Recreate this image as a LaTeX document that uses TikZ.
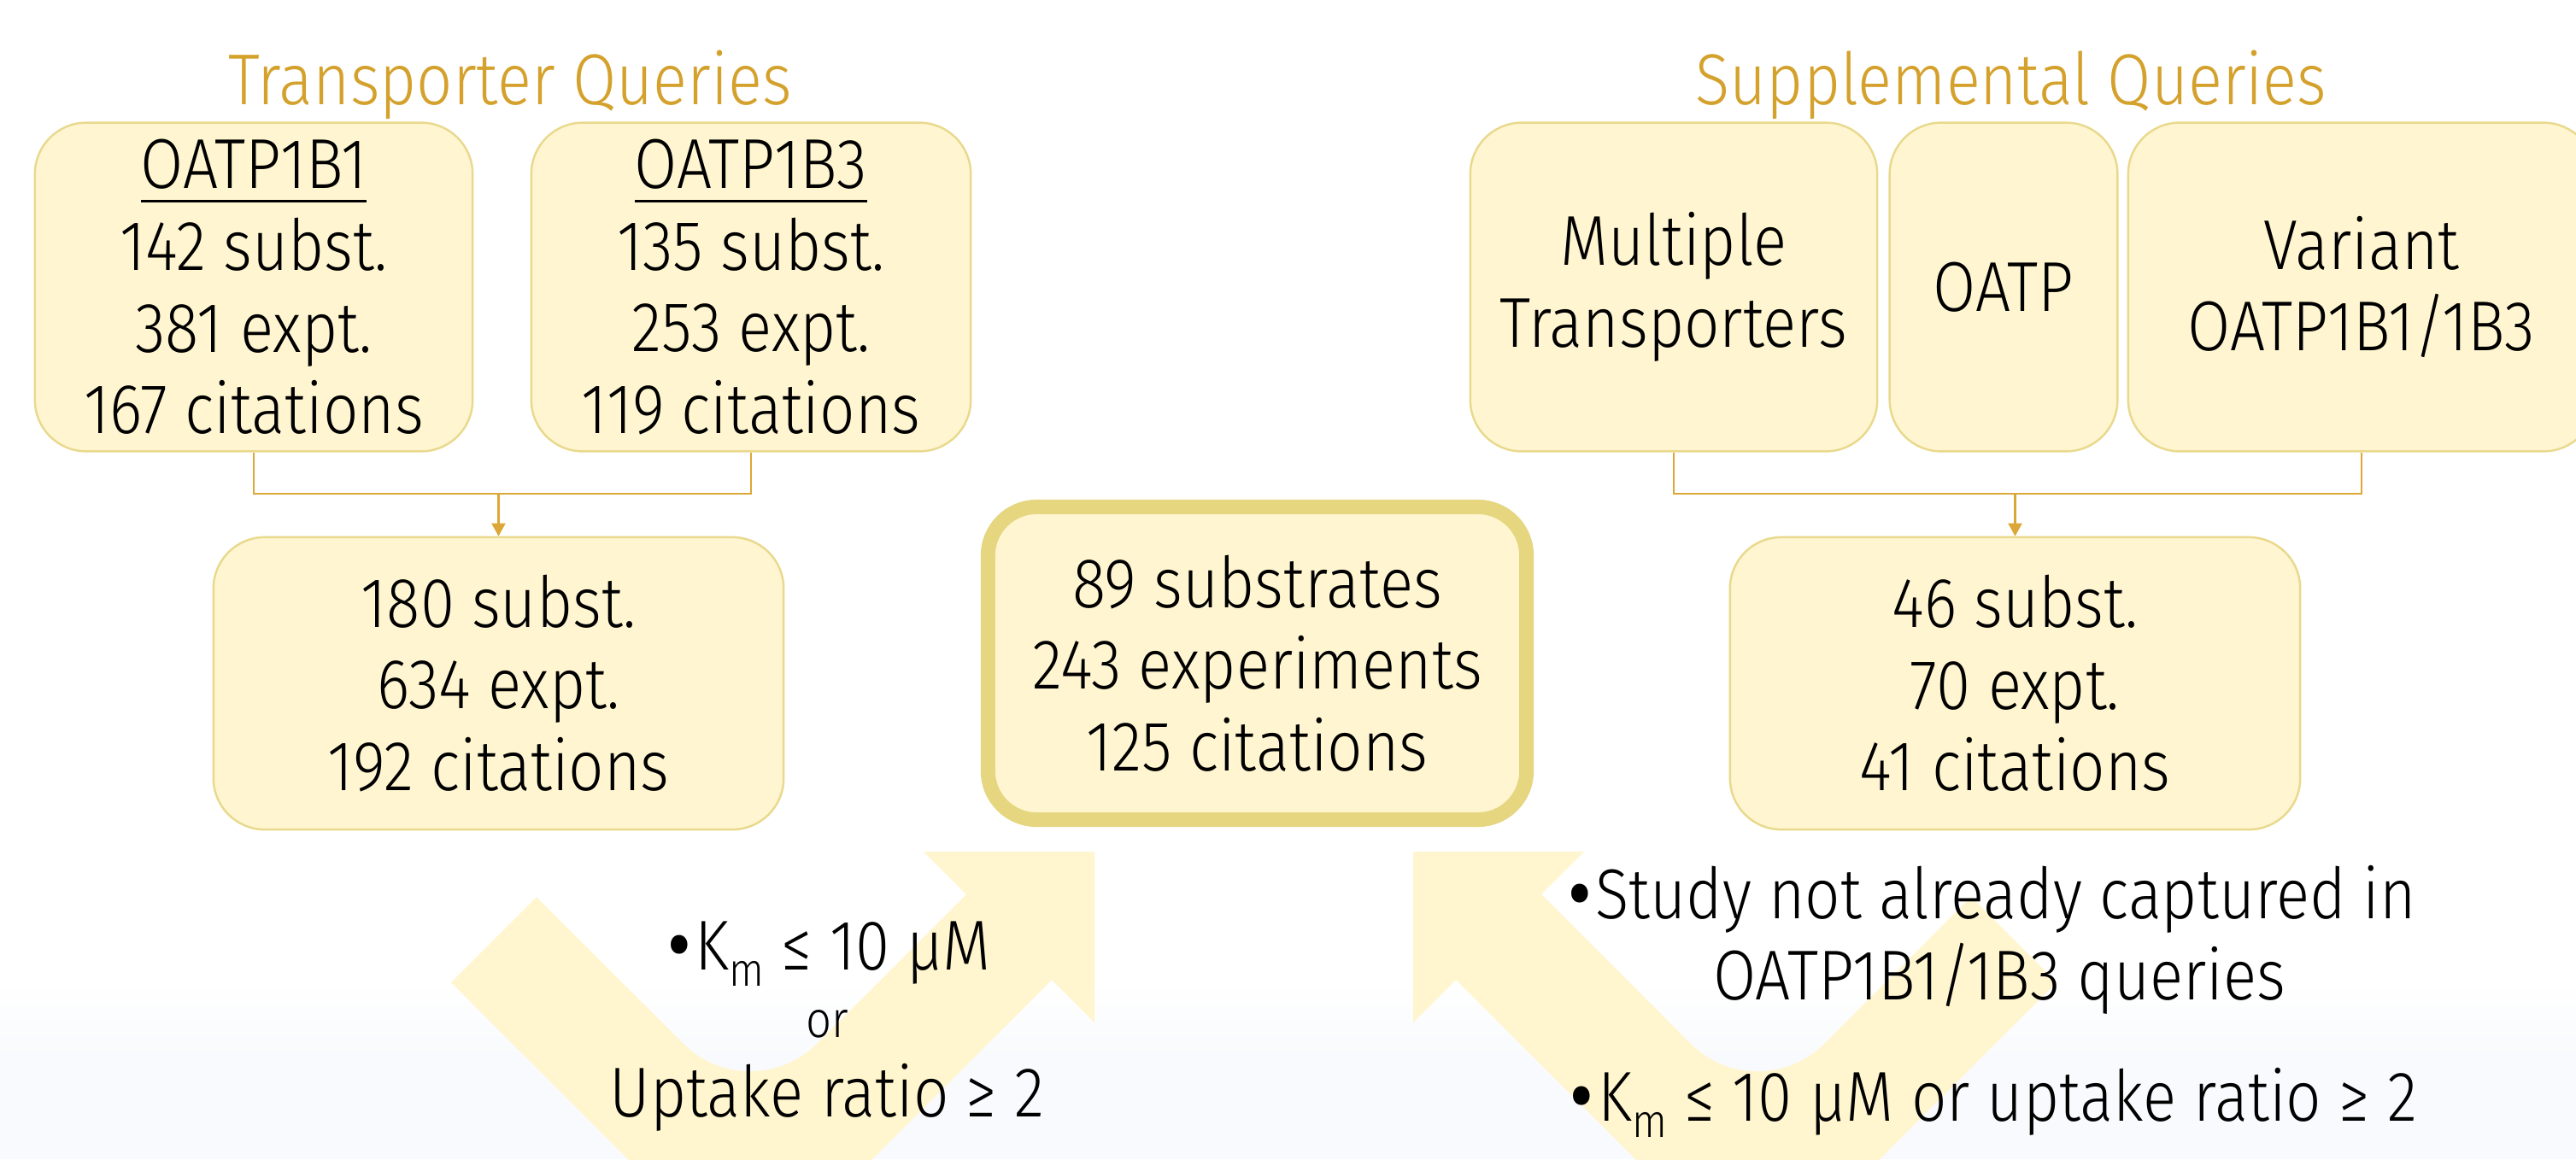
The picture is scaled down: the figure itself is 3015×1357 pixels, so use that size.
\documentclass[tikz,border=0pt]{standalone}
\usepackage{fontspec}
\IfFontExistsTF{Fira Sans Light}
  {\setmainfont{Fira Sans Light}[FakeStretch=0.88]}
  {\setmainfont{Fira Sans}[FakeStretch=0.88]}
\usetikzlibrary{arrows.meta,positioning,calc}

\definecolor{qgold}{HTML}{D4A12C}
\definecolor{qline}{HTML}{DCA736}
\definecolor{boxfill}{HTML}{FFF6D1}
\definecolor{boxedge}{HTML}{E9D98D}
\definecolor{coreedge}{HTML}{E5D67F}
\definecolor{arrowfill}{HTML}{FFF6CF}
\definecolor{floorgray}{HTML}{F8FAFD}

\newcommand\qsize{\fontsize{23.5}{27.2}\selectfont}
\newcommand\tsize{\fontsize{24}{28}\selectfont}
\newcommand\orsize{\fontsize{17}{20}\selectfont}
\newcommand\qtitle[1]{\setbox0\hbox{#1}\rlap{\rule[-0.2em]{\wd0}{0.9pt}}\box0}
\newcommand\kmsub{K\smash{\raisebox{-0.24em}{\fontsize{15.5}{16}\selectfont m}}}
\newcommand\qdot{\smash{\raisebox{-0.27em}{\scalebox{1.8}{•}}}}

\tikzset{
  qbox/.style={draw=boxedge, fill=boxfill, line width=0.7pt, rounded corners=0.6cm,
    font=\qsize, align=center, inner sep=0pt},
  corebox/.style={qbox, draw=coreedge, line width=0.17cm, rounded corners=0.57cm},
  qtext/.style={font=\qsize, align=center, inner sep=0pt, anchor=base},
  head/.style={font=\tsize, text=qgold, inner sep=0pt, anchor=base},
  link/.style={draw=qline, line width=0.6pt},
  tip/.style={-{Triangle[width=4.6pt,length=4.3pt]}},
  bendarrow/.pic={
    \fill[arrowfill] (0,0) -- (0,200) -- (-50,150) -- (-403,503) -- (-753,153)
      -- (-653,53) -- (-481,225) .. controls (-438,268) and (-368,268) .. (-325,225)
      -- (-150,50) -- (-200,0) -- cycle;
  }
}

\begin{document}
\begin{tikzpicture}[x=0.01cm, y=-0.01cm]

      \useasboundingbox (0,0) rectangle (3015,1357);
      \clip (0,0) rectangle (3015,1357);
      \fill[white] (0,0) rectangle (3015,1357);

      % floor
      \shade[top color=white, bottom color=floorgray] (0,1150) rectangle (3015,1240);
      \fill[floorgray] (0,1240) rectangle (3015,1357);

      % big bent arrows
      \pic at (1281,997) {bendarrow};
      \pic[xscale=-1] at (1654,997) {bendarrow};

      % titles
      \node[head] (tq) at (597,122.5) {Transporter Queries};
      \node[head] (sq) at (2354,122.5) {Supplemental Queries};

      % transporter boxes
      \node[qbox, minimum width=5.12cm, minimum height=3.845cm] (b1) at (297,336)
        {\qtitle{OATP1B1}\\142 subst.\\381 expt.\\167 citations};
      \node[qbox, minimum width=5.14cm, minimum height=3.845cm] (b3) at (879,336)
        {\qtitle{OATP1B3}\\135 subst.\\253 expt.\\119 citations};
      \node[qbox, minimum width=6.67cm, minimum height=3.42cm] (ml) at (583.5,800)
        {180 subst.\\634 expt.\\192 citations};

      % supplemental boxes
      \node[qbox, minimum width=4.76cm, minimum height=3.845cm] (mt) at (1959,336)
        {Multiple\\Transporters};
      \node[qbox, minimum width=2.665cm, minimum height=3.845cm] (oa) at (2345,336)
        {OATP};
      \node[qbox, minimum width=5.46cm, minimum height=3.845cm] (va) at (2764,336)
        {Variant\\OATP1B1/1B3};
      \node[qbox, minimum width=6.67cm, minimum height=3.42cm] (mr) at (2358.5,800)
        {46 subst.\\70 expt.\\41 citations};

      % final set
      \node[corebox, minimum width=6.3cm, minimum height=3.66cm] (core) at (1471.5,776.5)
        {89 substrates\\243 experiments\\125 citations};

      % merging lines
      \coordinate (jl) at (583.5,578);
      \coordinate (jr) at (2358.5,578);
      \draw[link] (b1.south) |- (jl) -| (b3.south);
      \draw[link, tip] (jl) -- (ml.north);
      \draw[link] (mt.south) |- (jr) -| (va.south);
      \draw[link, tip] (jr) -- (mr.north);

      % filter criteria
      \node[qtext] (kl) at (968,1135) {\qdot\kmsub{} ≤ 10 µM};
      \node[qtext, font=\orsize] (orl) at (968,1214) {or};
      \node[qtext] (ul) at (968,1307) {Uptake ratio ≥ 2};

      \node[qtext] (s1) at (2329,1075) {\qdot Study not already captured in};
      \node[qtext] (s2) at (2340,1170) {OATP1B1/1B3 queries};
      \node[qtext] (s3) at (2331,1312) {\qdot\kmsub{} ≤ 10 µM or uptake ratio ≥ 2};

    \end{tikzpicture}
\end{document}
